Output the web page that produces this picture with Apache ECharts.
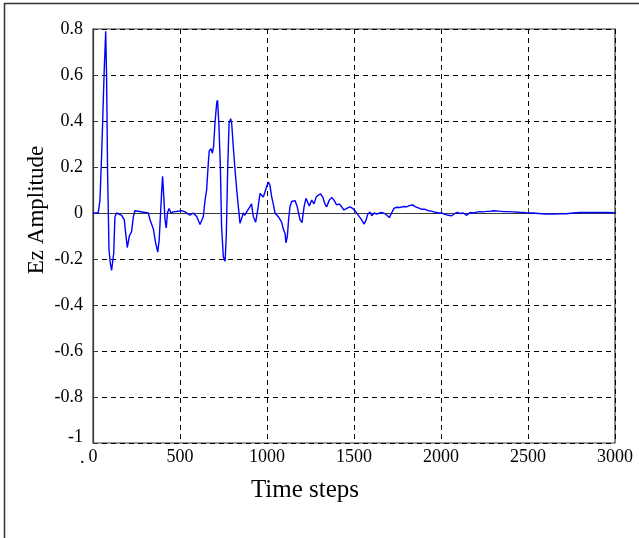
<!DOCTYPE html>
<html>
<head>
<meta charset="utf-8">
<script src="https://cdn.jsdelivr.net/npm/echarts@6/dist/echarts.min.js"></script>
<style>html,body{margin:0;padding:0;background:#fff;}#chart{width:639px;height:538px;}</style>
</head>
<body>
<div id="chart"></div>
<script>
var xTicks = [0, 500, 1000, 1500, 2000, 2500, 3000];
var yTicks = [-1, -0.8, -0.6, -0.4, -0.2, 0, 0.2, 0.4, 0.6, 0.8];

var timeSteps = [
  0, 30, 40, 50, 64, 73, 78, 84, 92, 100,
  107, 119, 126, 136, 165, 180, 188, 197, 209, 222,
  232, 241, 318, 328, 347, 360, 372, 380, 385, 395,
  400, 406, 414, 421, 428, 437, 448, 460, 510, 529,
  557, 576, 596, 615, 624, 634, 644, 653, 663, 668,
  678, 686, 693, 701, 711, 716, 724, 732, 739, 749,
  759, 766, 774, 782, 791, 797, 806, 816, 826, 835,
  845, 854, 864, 873, 883, 892, 904, 911, 921, 935,
  946, 960, 969, 979, 988, 998, 1008, 1017, 1027, 1036,
  1046, 1065, 1084, 1094, 1104, 1109, 1117, 1124, 1132, 1142,
  1151, 1161, 1174, 1190, 1201, 1213, 1224, 1234, 1243, 1257,
  1270, 1282, 1295, 1308, 1320, 1333, 1343, 1358, 1372, 1385,
  1400, 1416, 1429, 1442, 1458, 1477, 1492, 1506, 1525, 1544,
  1558, 1570, 1579, 1592, 1602, 1616, 1632, 1651, 1670, 1689,
  1703, 1716, 1730, 1745, 1764, 1783, 1802, 1822, 1837, 1851,
  1870, 1889, 1908, 1927, 1946, 1966, 1985, 2004, 2023, 2042,
  2061, 2080, 2094, 2109, 2128, 2148, 2167, 2186, 2205, 2224,
  2243, 2262, 2281, 2301, 2330, 2360, 2390, 2415, 2450, 2490,
  2529, 2560, 2605, 2640, 2682, 2720, 2760, 2797, 2850, 2900,
  2950, 3000
];

var ezAmplitude = [
  0, 0, 0.056, 0.26, 0.61, 0.79, 0.6, 0.17, -0.16, -0.22,
  -0.25, -0.175, -0.016, 0, -0.01, -0.03, -0.09, -0.15, -0.10, -0.08,
  -0.016, 0.01, 0, -0.03, -0.07, -0.13, -0.17, -0.12, -0.05, 0.10,
  0.16, 0.08, -0.03, -0.065, 0, 0.02, 0, 0.005, 0.01, 0.005,
  -0.01, 0, -0.015, -0.05, -0.055, -0.015, 0.056, 0.10, 0.22, 0.27,
  0.28, 0.26, 0.29, 0.39, 0.48, 0.49, 0.375, 0.20, -0.06, -0.19,
  -0.21, -0.10, 0.19, 0.39, 0.41, 0.39, 0.29, 0.19, 0.10, 0.03,
  -0.045, -0.045, 0, -0.01, 0.005, 0, 0.03, 0.04, -0.015, -0.04,
  0.01, 0.085, 0.085, 0.07, 0.09, 0.115, 0.135, 0.12, 0.07, 0.04,
  0, -0.016, -0.04, -0.07, -0.09, -0.13, -0.10, -0.03, 0.027, 0.05,
  0.056, 0.054, 0.027, -0.03, -0.042, 0.027, 0.064, 0.056, 0.03, 0.056,
  0.04, 0.068, 0.078, 0.083, 0.07, 0.039, 0.027, 0.056, 0.068, 0.056,
  0.035, 0.039, 0.027, 0.013, 0.02, 0.027, 0.02, 0.01, -0.01, -0.03,
  -0.048, -0.03, -0.005, 0.004, -0.012, 0, -0.005, 0.002, 0, -0.01,
  -0.02, 0, 0.02, 0.025, 0.024, 0.028, 0.027, 0.033, 0.035, 0.028,
  0.022, 0.016, 0.016, 0.01, 0.008, 0.003, 0, 0, -0.006, -0.01,
  -0.012, -0.002, 0.003, -0.002, 0, -0.01, 0.002, 0, 0.004, 0.006,
  0.005, 0.007, 0.007, 0.01, 0.008, 0.006, 0.006, 0.005, 0.003, 0.001,
  0, -0.002, -0.005, -0.005, -0.003, -0.003, 0, 0.002, 0.002, 0.002,
  0.002, 0.001
];

var xTitle = 'Time steps';
var yTitle = 'Ez Amplitude';

var seriesData = timeSteps.map(function (t, i) { return [t, ezAmplitude[i]]; });

var chart = echarts.init(document.getElementById('chart'), null, {renderer: 'canvas'});
var serif = '"Liberation Serif", "Times New Roman", serif';

function yFmt(v) {
  var r = Math.round(v * 10) / 10;
  if (Math.abs(r) < 1e-9) return '0';
  if (r === -1) return '{lo|-1}';
  return String(r);
}
function xFmt(v) { return String(Math.round(v)); }

chart.setOption({
  animation: false,
  backgroundColor: '#ffffff',
  grid: {
    left: 93, top: 29, right: 24, bottom: 95,
    show: true, borderColor: '#3a3a3a', borderWidth: 1.2, backgroundColor: 'transparent'
  },
  xAxis: {
    type: 'value',
    min: xTicks[0], max: xTicks[xTicks.length - 1], interval: 500,
    axisLine: {show: true, lineStyle: {color: '#3a3a3a', width: 1.2}},
    axisTick: {show: true, inside: true, length: 5, lineStyle: {color: '#3a3a3a'}},
    axisLabel: {fontFamily: serif, fontSize: 18, color: '#000', margin: 5, formatter: xFmt},
    splitLine: {show: true, lineStyle: {color: '#000', type: [5, 4], width: 1}}
  },
  yAxis: {
    type: 'value',
    min: yTicks[0], max: yTicks[yTicks.length - 1], interval: 0.2,
    axisLine: {show: true, lineStyle: {color: '#3a3a3a', width: 1.2}},
    axisTick: {show: true, inside: true, length: 5, lineStyle: {color: '#3a3a3a'}},
    axisLabel: {
      fontFamily: serif, fontSize: 18, color: '#000', margin: 10, formatter: yFmt,
      rich: {lo: {fontFamily: serif, fontSize: 18, color: '#000', padding: [0, 0, 12, 0]}}
    },
    splitLine: {show: true, lineStyle: {color: '#000', type: [5, 4], width: 1}}
  },
  graphic: [
    {type: 'line', shape: {x1: 4, y1: 3.5, x2: 639, y2: 3.5}, style: {stroke: '#333', lineWidth: 1.5}},
    {type: 'line', shape: {x1: 4.5, y1: 3, x2: 4.5, y2: 538}, style: {stroke: '#333', lineWidth: 1.5}},
    {type: 'text', left: 80, top: 449, style: {text: '.', font: '18px ' + serif, fill: '#000'}},
    {type: 'text', x: 305, y: 490, style: {text: xTitle, font: '25px ' + serif, fill: '#000', textAlign: 'center', textVerticalAlign: 'middle'}},
    {type: 'text', x: 37, y: 210, rotation: Math.PI / 2, style: {text: yTitle, font: '23px ' + serif, fill: '#000', textAlign: 'center', textVerticalAlign: 'middle'}}
  ],
  series: [{
    type: 'line',
    data: seriesData,
    showSymbol: false,
    symbol: 'none',
    lineStyle: {color: '#0000ff', width: 1.4},
    z: 5
  }]
});
</script>
</body>
</html>
